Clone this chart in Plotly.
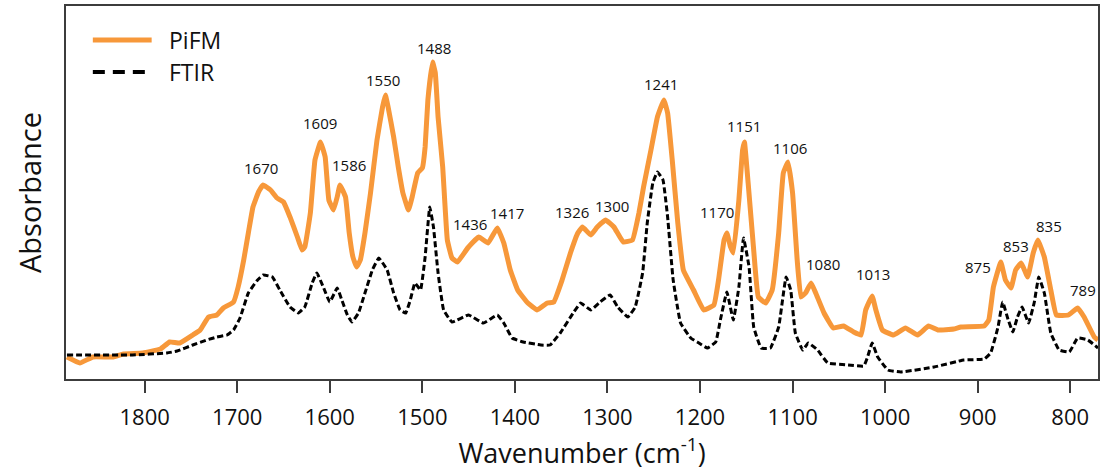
import plotly.graph_objects as go

# PiFM spectrum (wavenumber, arbitrary absorbance)
pifm_wn = [1884, 1870, 1856, 1834, 1823, 1802, 1783, 1773, 1762, 1748, 1740, 1731, 1722, 1715, 1704,
           1699, 1693, 1688, 1683, 1677, 1672, 1664, 1657, 1650, 1643, 1635, 1630, 1627, 1621, 1616,
           1610, 1605, 1601, 1596, 1592, 1589, 1583, 1579, 1575, 1571, 1567, 1562, 1556, 1549, 1543,
           1540, 1537, 1531, 1526, 1521, 1515, 1511, 1505, 1500, 1497, 1494, 1489, 1486, 1483, 1478,
           1473, 1468, 1462, 1451, 1439, 1429, 1419, 1412, 1405, 1397, 1386, 1376, 1365, 1358, 1349,
           1340, 1332, 1327, 1318, 1311, 1302, 1293, 1283, 1273, 1266, 1261, 1253, 1246, 1239, 1235,
           1230, 1224, 1218, 1207, 1196, 1185, 1180, 1174, 1171, 1167, 1164, 1158, 1154, 1152, 1148,
           1142, 1137, 1129, 1122, 1115, 1110, 1105, 1100, 1095, 1091, 1086, 1080, 1075, 1066, 1056,
           1045, 1034, 1026, 1021, 1014, 1010, 1003, 991, 978, 965, 953, 943, 926, 918, 893,
           888, 883, 875, 870, 864, 859, 853, 846, 840, 835, 828, 821, 815, 802, 792,
           785, 774, 770]
pifm_val = [0.22, 0.16, 0.22, 0.22, 0.25, 0.26, 0.30, 0.37, 0.36, 0.44, 0.49, 0.62, 0.64, 0.71, 0.77,
            0.92, 1.19, 1.46, 1.72, 1.87, 1.94, 1.89, 1.81, 1.77, 1.62, 1.42, 1.29, 1.32, 1.66, 2.19,
            2.37, 2.22, 1.79, 1.69, 1.82, 1.94, 1.82, 1.46, 1.22, 1.12, 1.19, 1.46, 1.86, 2.39, 2.72,
            2.84, 2.72, 2.42, 2.12, 1.86, 1.69, 1.82, 2.06, 2.11, 2.32, 2.79, 3.17, 3.06, 2.62, 2.12,
            1.39, 1.21, 1.17, 1.31, 1.42, 1.36, 1.51, 1.36, 1.09, 0.89, 0.76, 0.69, 0.76, 0.77, 0.99,
            1.26, 1.46, 1.52, 1.44, 1.52, 1.59, 1.52, 1.37, 1.39, 1.66, 1.92, 2.29, 2.62, 2.79, 2.66,
            2.19, 1.56, 1.09, 0.89, 0.69, 0.74, 0.99, 1.39, 1.46, 1.32, 1.26, 1.79, 2.29, 2.37, 1.96,
            1.29, 0.82, 0.76, 0.89, 1.46, 2.06, 2.17, 1.86, 1.19, 0.82, 0.86, 0.96, 0.86, 0.66, 0.51,
            0.53, 0.47, 0.44, 0.69, 0.83, 0.69, 0.49, 0.44, 0.51, 0.44, 0.53, 0.49, 0.50, 0.52, 0.53,
            0.59, 0.92, 1.17, 0.99, 0.91, 1.09, 1.16, 1.02, 1.26, 1.39, 1.22, 0.89, 0.64, 0.64, 0.71,
            0.62, 0.42, 0.39]

# FTIR spectrum
ftir_wn = [1884, 1813, 1776, 1765, 1748, 1733, 1722, 1711, 1704, 1697, 1688, 1678, 1672, 1662, 1654,
           1643, 1634, 1627, 1619, 1614, 1607, 1600, 1592, 1587, 1581, 1576, 1569, 1562, 1554, 1547,
           1538, 1531, 1524, 1518, 1513, 1508, 1502, 1497, 1492, 1488, 1483, 1477, 1468, 1450, 1434,
           1419, 1412, 1403, 1391, 1372, 1362, 1351, 1337, 1329, 1318, 1308, 1297, 1289, 1278, 1270,
           1262, 1257, 1251, 1246, 1240, 1235, 1229, 1221, 1210, 1203, 1192, 1183, 1178, 1171, 1164,
           1158, 1153, 1147, 1142, 1134, 1124, 1115, 1107, 1102, 1097, 1089, 1083, 1073, 1062, 1040,
           1023, 1019, 1014, 1008, 997, 983, 947, 915, 893, 886, 878, 873, 867, 862, 857,
           852, 845, 839, 834, 828, 821, 812, 801, 792, 781, 770]
ftir_val = [0.24, 0.24, 0.26, 0.28, 0.34, 0.39, 0.42, 0.44, 0.49, 0.61, 0.86, 0.99, 1.04, 1.02, 0.89,
            0.72, 0.66, 0.72, 0.96, 1.06, 0.92, 0.77, 0.91, 0.79, 0.64, 0.57, 0.66, 0.86, 1.09, 1.21,
            1.09, 0.86, 0.69, 0.66, 0.79, 0.96, 0.89, 1.22, 1.72, 1.52, 1.06, 0.69, 0.57, 0.64, 0.56,
            0.64, 0.56, 0.41, 0.37, 0.34, 0.34, 0.46, 0.66, 0.76, 0.69, 0.77, 0.84, 0.72, 0.62, 0.72,
            1.06, 1.56, 1.96, 2.07, 1.99, 1.62, 0.99, 0.56, 0.41, 0.37, 0.31, 0.37, 0.59, 0.87, 0.59,
            0.92, 1.41, 1.12, 0.52, 0.31, 0.31, 0.52, 1.02, 0.89, 0.46, 0.29, 0.36, 0.29, 0.16, 0.14,
            0.13, 0.22, 0.36, 0.22, 0.09, 0.07, 0.12, 0.19, 0.20, 0.26, 0.52, 0.77, 0.59, 0.47, 0.62,
            0.72, 0.56, 0.76, 1.02, 0.86, 0.46, 0.29, 0.27, 0.41, 0.39, 0.31]

# Peak labels
peak_text = ["1670", "1609", "1586", "1550", "1488", "1436", "1417", "1326", "1300", "1241",
             "1170", "1151", "1106", "1080", "1013", "875", "853", "835", "789"]
peak_x = [1674, 1611, 1579, 1542, 1487, 1449, 1408, 1338, 1295, 1242,
          1182, 1152, 1103, 1067, 1013, 900, 859, 823, 786]
peak_y = [2.11, 2.56, 2.14, 2.99, 3.31, 1.55, 1.66, 1.67, 1.73, 2.95,
          1.67, 2.53, 2.31, 1.15, 1.05, 1.12, 1.33, 1.53, 0.89]

ORANGE = "#F7983A"
AXIS = "#3c3c3c"
FONT = "Open Sans"

fig = go.Figure()
fig.add_trace(go.Scatter(x=pifm_wn, y=pifm_val, mode="lines", name="PiFM",
                         line=dict(color=ORANGE, width=5, shape="spline", smoothing=0.3),
                         showlegend=False))
fig.add_trace(go.Scatter(x=ftir_wn, y=ftir_val, mode="lines", name="FTIR",
                         line=dict(color="black", width=3, dash="6px,3px", shape="spline", smoothing=0.3),
                         showlegend=False))

for t, x, y in zip(peak_text, peak_x, peak_y):
    fig.add_annotation(x=x, y=y, text=t, showarrow=False,
                       font=dict(family=FONT, size=15, color="#111"))

# legend (drawn manually to match sample line length)
fig.add_shape(type="line", xref="paper", yref="paper", x0=0.026, x1=0.083, y0=0.909, y1=0.909,
              line=dict(color=ORANGE, width=5))
fig.add_shape(type="line", xref="paper", yref="paper", x0=0.026, x1=0.083, y0=0.823, y1=0.823,
              line=dict(color="black", width=4, dash="12px,8px"))
fig.add_annotation(xref="paper", yref="paper", x=0.099, y=0.909, text="PiFM", showarrow=False,
                   xanchor="left", yanchor="middle", borderpad=0,
                   font=dict(family=FONT, size=23, color="#111"))
fig.add_annotation(xref="paper", yref="paper", x=0.099, y=0.823, text="FTIR", showarrow=False,
                   xanchor="left", yanchor="middle", borderpad=0,
                   font=dict(family=FONT, size=23, color="#111"))

fig.update_layout(
    width=1105, height=472,
    margin=dict(l=66, r=7, t=6, b=93, autoexpand=False),
    paper_bgcolor="white", plot_bgcolor="white",
    font=dict(family=FONT, color="#111"),
    xaxis=dict(range=[1885, 770], tickvals=[1800, 1700, 1600, 1500, 1400, 1300, 1200, 1100, 1000, 900, 800],
               ticks="outside", ticklen=12, tickwidth=2, tickcolor=AXIS,
               showline=True, linecolor=AXIS, linewidth=2, mirror=True,
               showgrid=False, zeroline=False, ticklabelstandoff=6,
               tickfont=dict(family=FONT, size=22, color="#111"),
               title=dict(text="Wavenumber (cm<sup>-1</sup>)", font=dict(family=FONT, size=27, color="#111"),
                          standoff=10)),
    yaxis=dict(range=[0, 3.73], showticklabels=False, ticks="",
               showline=True, linecolor=AXIS, linewidth=2, mirror=True,
               showgrid=False, zeroline=False,
               title=dict(text="Absorbance", font=dict(family=FONT, size=29, color="#111"), standoff=14)),
)

fig.write_html("out.html", config={"displayModeBar": False},
               post_script="document.body.style.margin='0';document.body.style.padding='0';")
